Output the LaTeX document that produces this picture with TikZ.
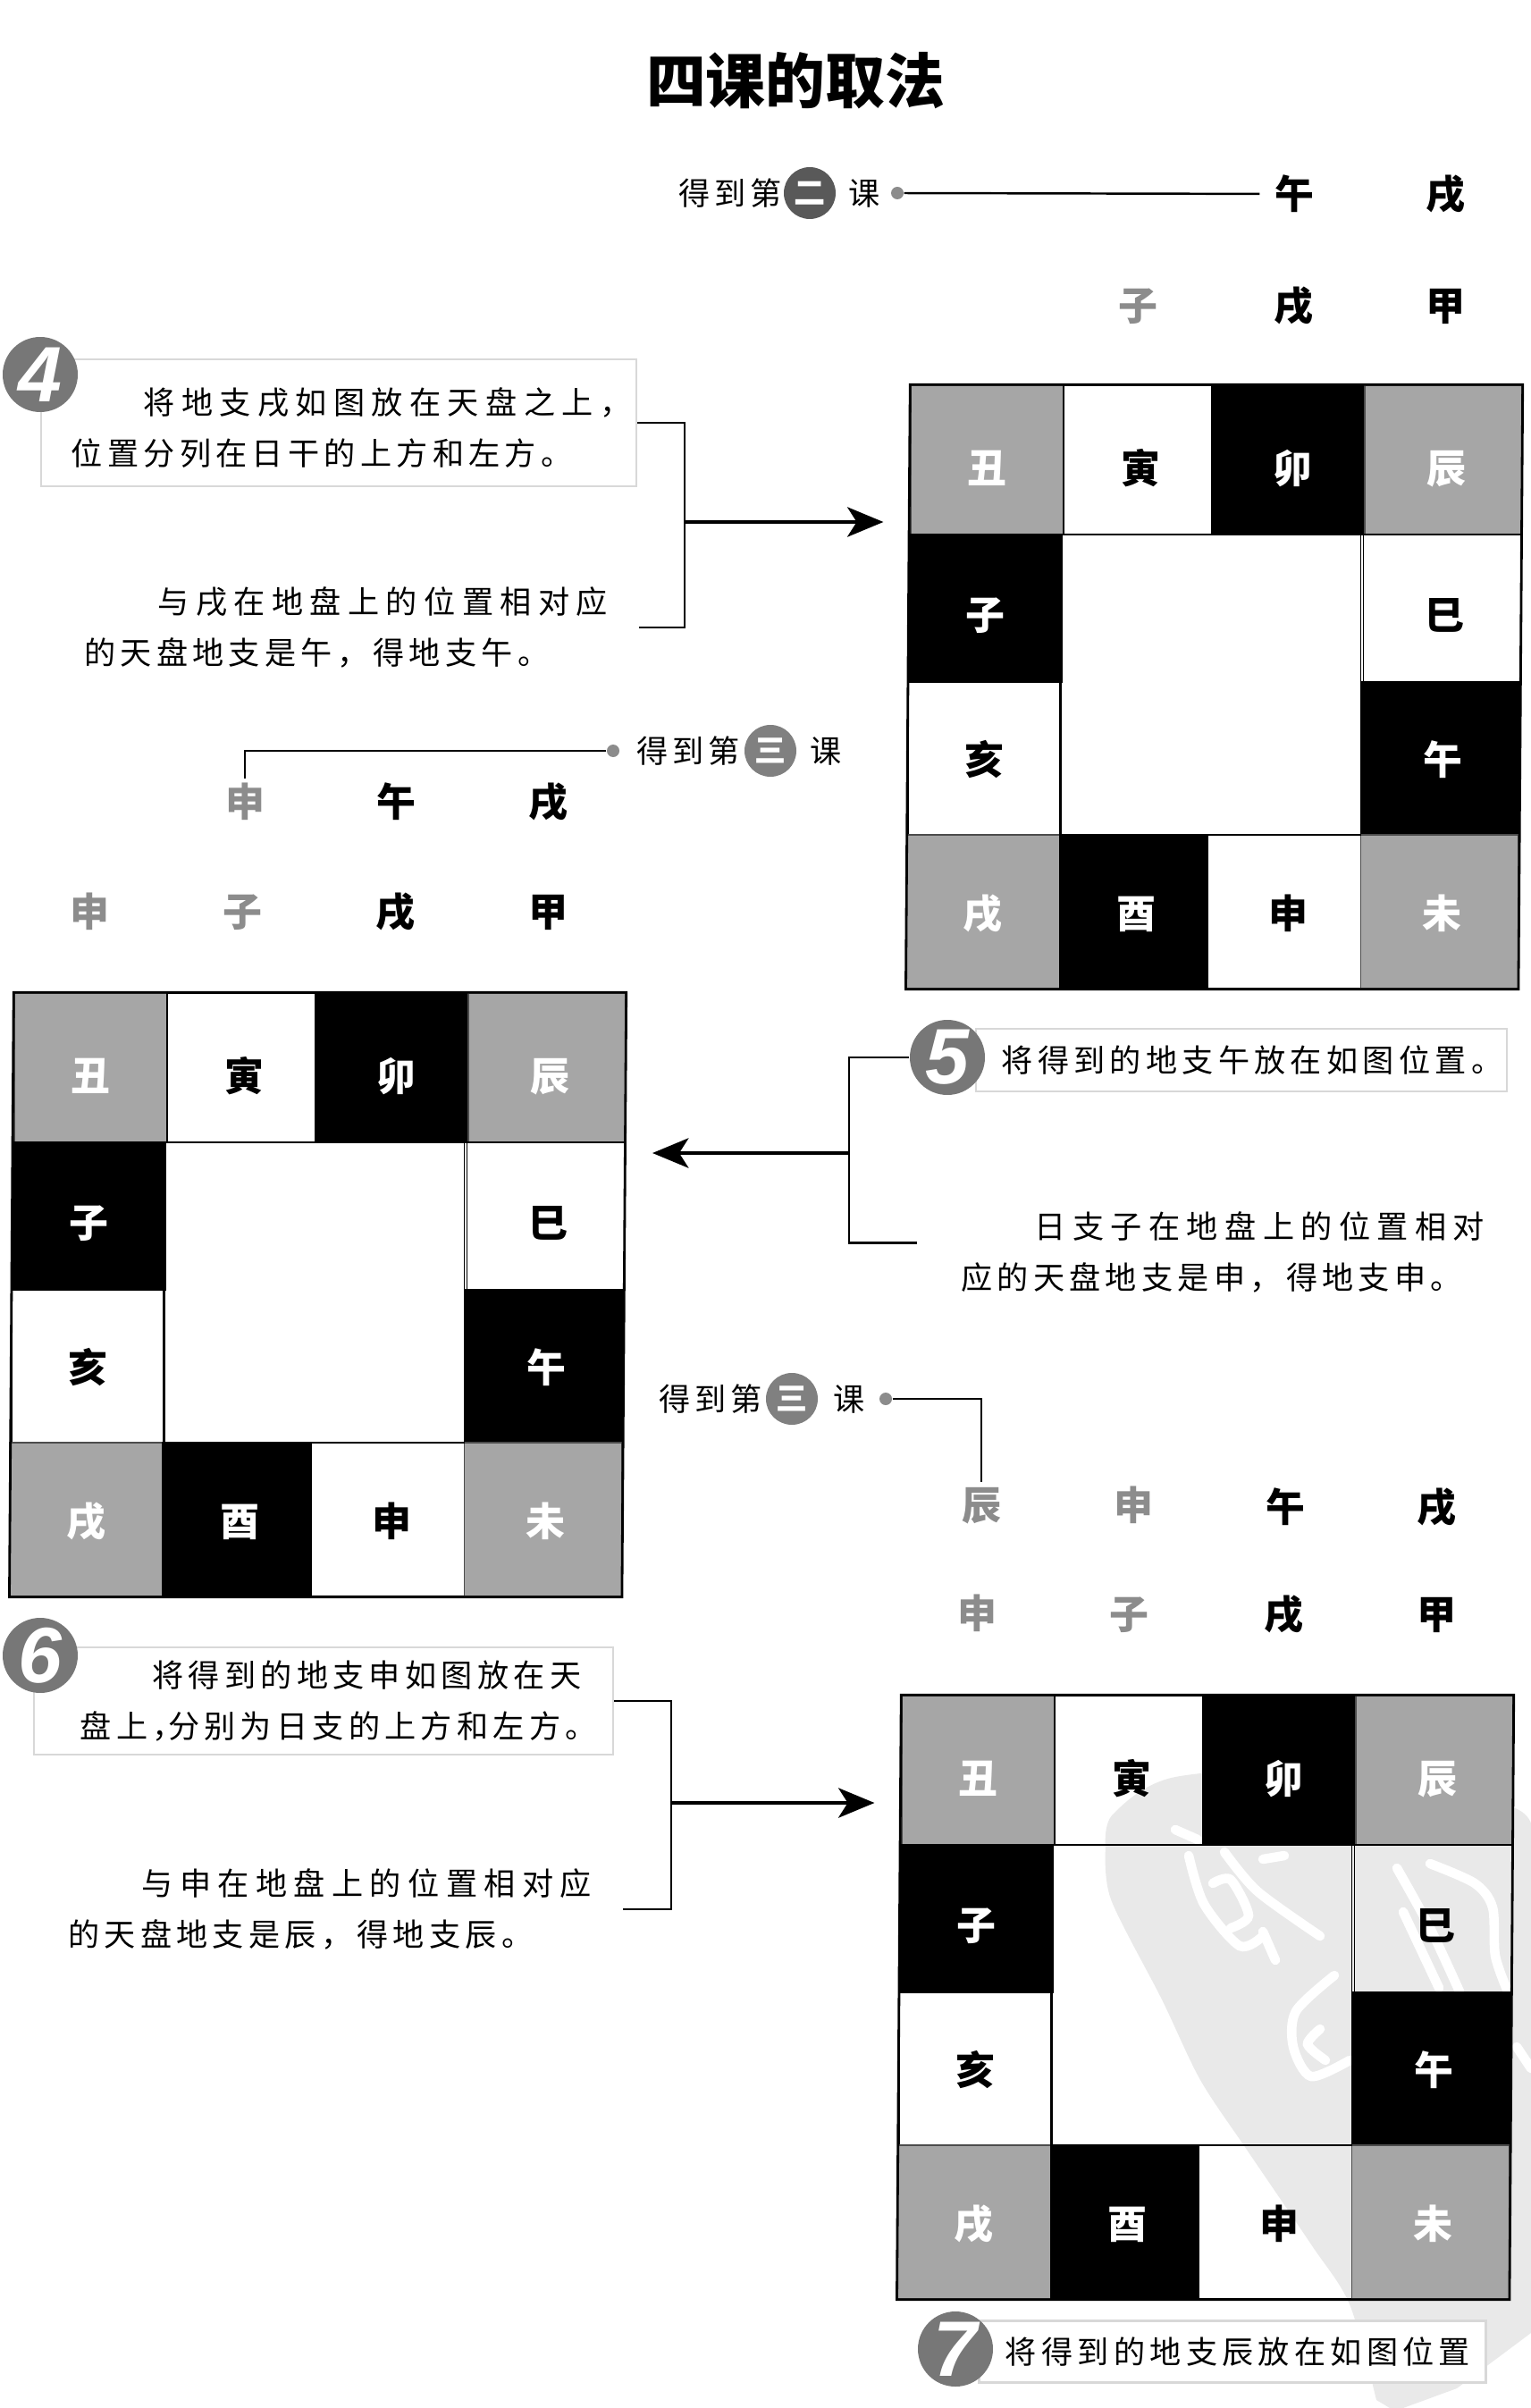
\documentclass[tikz,border=0pt]{standalone}
\usepackage{fontspec}
\setmainfont{Noto Sans CJK SC}
\newfontfamily\bodyfont[LetterSpace=15]{Noto Sans CJK SC}
\newfontfamily\numfont{Liberation Sans}
\usepackage{tikz}
\usetikzlibrary{arrows.meta,calc}
\definecolor{wmgray}{HTML}{E9E9E9}
\definecolor{cellgray}{HTML}{A6A6A6}
\definecolor{stepgray}{HTML}{777777}
\definecolor{rulegray}{HTML}{D8D8D8}
\newcommand{\ind}[1]{\hspace*{#1}}
\newcommand{\widen}{\addfontfeature{LetterSpace=21}}
% one board of twelve branches: name, left, top
\newcommand{\drawboard}[3]{%
  \begin{scope}[shift={(#2,#3)}]
  \foreach \nm/\txt/\cc/\rr/\kind in {chou/丑/0/0/graycell,yin/寅/1/0/whitecell,mao/卯/2/0/blackcell,chen/辰/3/0/graycell,
    zi/子/0/1/blackcell,si/巳/3/1/whitecell,hai/亥/0/2/whitecell,wu/午/3/2/blackcell,
    xu/戌/0/3/graycell,you/酉/1/3/blackcell,shen/申/2/3/whitecell,wei/未/3/3/graycell}{%
    \pgfmathsetmacro\xa{{0,1.71,3.37,5.08,6.84}[\cc]}%
    \pgfmathsetmacro\xb{{0,1.71,3.37,5.08,6.84}[\cc+1]}%
    \pgfmathsetmacro\ya{{0,1.67,3.32,5.03,6.75}[\rr]}%
    \pgfmathsetmacro\yb{{0,1.67,3.32,5.03,6.75}[\rr+1]}%
    \pgfmathsetmacro\dx{{0,.03,.05,.03}[\cc]}%
    \pgfmathsetmacro\dy{{.09,.07,.01,.02}[\rr]}%
    \node[\kind,minimum width=\xb cm-\xa cm,minimum height=\yb cm-\ya cm] (#1\nm)
      at ({(\xa+\xb)/2-0.016*\rr},{-(\ya+\yb)/2}) {\kern\dx cm\raisebox{-\dy cm}{\txt}\kern-\dx cm};
  }
  \node[draw,line width=0.5pt,minimum width=3.37cm,minimum height=3.36cm] (#1mid) at (3.37-0.02,-3.35) {};
  \draw[line width=0.8pt] (#1chou.north west)--(#1chen.north east)--(#1wei.south east)--(#1xu.south west)--cycle;
  \end{scope}}
\begin{document}
\begin{tikzpicture}[font=\fontsize{12.5}{15}\selectfont,
 boardcell/.style={inner sep=0pt,text height=11pt,text depth=1.5pt,font=\fontsize{12.5}{15}\selectfont\bfseries},
 graycell/.style={boardcell,fill=cellgray,draw=black!70,line width=0.4pt,text=white},
 whitecell/.style={boardcell,draw=black,line width=0.4pt},
 blackcell/.style={boardcell,fill=black,draw=black,line width=0.4pt,text=white},
 ganzhi/.style={boardcell,minimum width=0.76cm,minimum height=0.5cm},
 fadeg/.style={ganzhi,text=black!45},
 note/.style={font=\bodyfont\fontsize{10}{16.2}\selectfont,align=left,inner xsep=9.7pt,inner ysep=0pt},
 notebox/.style={note,draw=rulegray,line width=0.6pt,inner sep=0pt},
 stepno/.style={circle,fill=stepgray,inner sep=0pt,minimum size=0.84cm,text=white,font=\numfont\fontsize{25}{25}\selectfont\bfseries\itshape},
 lesson/.style={circle,inner sep=0pt,minimum size=0.58cm,text=white,font=\fontsize{10}{10}\selectfont\bfseries},
 getnote/.style={note,inner xsep=0pt},
 dotn/.style={circle,fill=black!45,inner sep=0pt,minimum size=0.14cm},
 brk/.style={line width=0.7pt},
 wmstroke/.style={white,line width=3pt,line cap=round},
 arr/.style={-{Stealth[length=11.5pt,width=9.5pt,inset=3pt]},line width=1pt}]
\useasboundingbox (0,0) rectangle (17.13,-26.94);
% watermark behind the last board
\fill[wmgray] plot[smooth] coordinates {(12.37,-20.67) (12.45,-20.3) (13.15,-19.88) (15,-19.8) (16.93,-20.22) (17.13,-20.58)}
  -- (17.13,-26.1) -- (16.3,-26.72) -- (15.7,-26.94) -- (15.55,-26.94)
  -- plot[smooth] coordinates {(15.4,-26.85) (15.1,-25.78) (14.67,-25.11) (13.95,-24.05) (13.43,-23.27) (13,-22.37) (12.43,-21.25) (12.37,-20.67)};
\draw[wmstroke] plot[smooth] coordinates {(13.15,-20.47) (13.4,-20.58)};
\draw[wmstroke] plot[smooth] coordinates {(13.3,-20.76) (13.47,-21.3) (13.87,-21.77) (14.13,-21.66)};
\draw[wmstroke] plot[smooth] coordinates {(13.7,-20.72) (14.07,-21.16) (14.77,-21.66)};
\draw[wmstroke] plot[smooth] coordinates {(14.13,-20.8) (14.37,-20.76)};
\draw[wmstroke] plot[smooth] coordinates {(13.57,-21.07) (13.77,-21.03) (13.97,-21.43) (13.77,-21.57)};
\draw[wmstroke] plot[smooth] coordinates {(14.13,-21.61) (14.27,-21.93)};
\draw[wmstroke] plot[smooth] coordinates {(14.93,-22.1) (14.5,-22.5) (14.47,-22.9) (14.67,-23.23) (15.1,-23.05)};
\draw[wmstroke] plot[smooth] coordinates {(14.77,-22.7) (14.63,-22.87) (14.83,-23.05)};
\draw[wmstroke] plot[smooth] coordinates {(15.63,-20.9) (16,-21.57) (16.33,-22.28)};
\draw[wmstroke] plot[smooth] coordinates {(16,-20.85) (16.5,-21.07) (16.7,-21.34) (16.73,-21.88) (16.87,-22.28)};
\draw[wmstroke] plot[smooth] coordinates {(15.7,-21.39) (16.1,-22.24)};
\draw[wmstroke] plot[smooth] coordinates {(16.97,-22.9) (17.13,-23.14)};
\node[font=\fontsize{19}{22}\selectfont\bfseries] (title) at (8.9,-0.9) {四课的取法};
% second lesson
\node[getnote] (get2) at (8.17,-2.16) {得到第};
\node[lesson,fill=black!65] (les2) at (9.06,-2.16) {二};
\node[getnote] (ke2) at (9.67,-2.16) {课};
\node[dotn] (dot2) at (10.04,-2.16) {};
\node[ganzhi] (a1) at (14.48,-2.17) {午};
\node[ganzhi] (a2) at (16.17,-2.17) {戌};
\node[fadeg] (a3) at (12.73,-3.42) {子};
\node[ganzhi] (a4) at (14.47,-3.42) {戌};
\node[ganzhi] (a5) at (16.17,-3.42) {甲};
\draw[brk] (dot2)--(a1);
\node[notebox,minimum width=6.66cm,minimum height=1.42cm] (n4a) at (3.79,-4.73)
  {\rule{0pt}{11.8pt}\ind{31pt}{\widen 将地支戌如图放在天盘之上，}\\\ind{8pt}位置分列在日干的上方和左方。};
\node[stepno] (s4) at (0.45,-4.19) {4};
\node[note] (n4b) at (3.87,-7.02) {\ind{23.5pt}{\widen 与戌在地盘上的位置相对应}\\的天盘地支是午，得地支午。};
\drawboard{b1}{10.19}{-4.31}
\coordinate (j4) at (7.66,-5.84);
\draw[brk] (n4a.east) -| (j4) |- (n4b.east);
\draw[arr,shorten >=8.5pt] (j4) -- (j4 -| b1chou.west);
% third lesson, left
\node[getnote] (get3) at (7.70,-8.40) {得到第};
\node[lesson,fill=black!50] (les3) at (8.62,-8.40) {三};
\node[getnote] (ke3) at (9.24,-8.40) {课};
\node[dotn] (dot3) at (6.86,-8.40) {};
\node[fadeg] (c1) at (2.74,-8.97) {申};
\node[ganzhi] (c2) at (4.43,-8.97) {午};
\node[ganzhi] (c3) at (6.13,-8.97) {戌};
\node[fadeg] (c4) at (1.00,-10.2) {申};
\node[fadeg] (c5) at (2.71,-10.2) {子};
\node[ganzhi] (c6) at (4.42,-10.2) {戌};
\node[ganzhi] (c7) at (6.13,-10.2) {甲};
\draw[brk] (dot3) -| (c1.north);
\drawboard{b2}{0.16}{-11.11}
\node[notebox,minimum width=5.94cm,minimum height=0.70cm] (n5a) at (13.89,-11.86)
  {\ind{6.8pt}将得到的地支午放在如图位置。};
\node[stepno] (s5) at (10.60,-11.83) {5};
\node[note] (n5b) at (13.68,-14.01) {\ind{23.5pt}{\widen 日支子在地盘上的位置相对}\\应的天盘地支是申，得地支申。};
\coordinate (j5) at (9.50,-12.90);
\draw[brk] (s5.west) -| (j5) |- ([yshift=3pt,xshift=-4pt]n5b.west);
\draw[arr,shorten >=8.8pt] (j5) -- (j5 -| b2si.east);
% third lesson, right
\node[getnote] (get4) at (7.95,-15.65) {得到第};
\node[lesson,fill=black!50] (les4) at (8.86,-15.65) {三};
\node[getnote] (ke4) at (9.50,-15.65) {课};
\node[dotn] (dot4) at (9.91,-15.65) {};
\node[fadeg] (e1) at (10.98,-16.84) {辰};
\node[fadeg] (e2) at (12.68,-16.84) {申};
\node[ganzhi] (e3) at (14.38,-16.86) {午};
\node[ganzhi] (e4) at (16.07,-16.86) {戌};
\node[fadeg] (e5) at (10.93,-18.05) {申};
\node[fadeg] (e6) at (12.63,-18.06) {子};
\node[ganzhi] (e7) at (14.36,-18.06) {戌};
\node[ganzhi] (e8) at (16.07,-18.06) {甲};
\draw[brk] (dot4) -| (e1.north);
\node[notebox,minimum width=6.48cm,minimum height=1.20cm] (n6a) at (3.62,-19.03)
  {\ind{32.5pt}将得到的地支申如图放在天\\\ind{9.5pt}盘上，\kern-5pt 分别为日支的上方和左方。};
\node[stepno] (s6) at (0.45,-18.52) {6};
\node[note] (n6b) at (3.69,-21.36) {\ind{23.5pt}{\widen 与申在地盘上的位置相对应}\\的天盘地支是辰，得地支辰。};
\drawboard{b3}{10.09}{-18.97}
\coordinate (j6) at (7.51,-20.17);
\draw[brk] (n6a.east) -| (j6) |- (n6b.east);
\draw[arr,shorten >=8.5pt] (j6) -- (j6 -| b3chou.west);
\node[notebox,fill=white,minimum width=5.67cm,minimum height=0.69cm] (n7a) at (13.79,-26.31)
  {\ind{3.4pt}将得到的地支辰放在如图位置};
\node[stepno] (s7) at (10.69,-26.28) {7};
\end{tikzpicture}
\end{document}
